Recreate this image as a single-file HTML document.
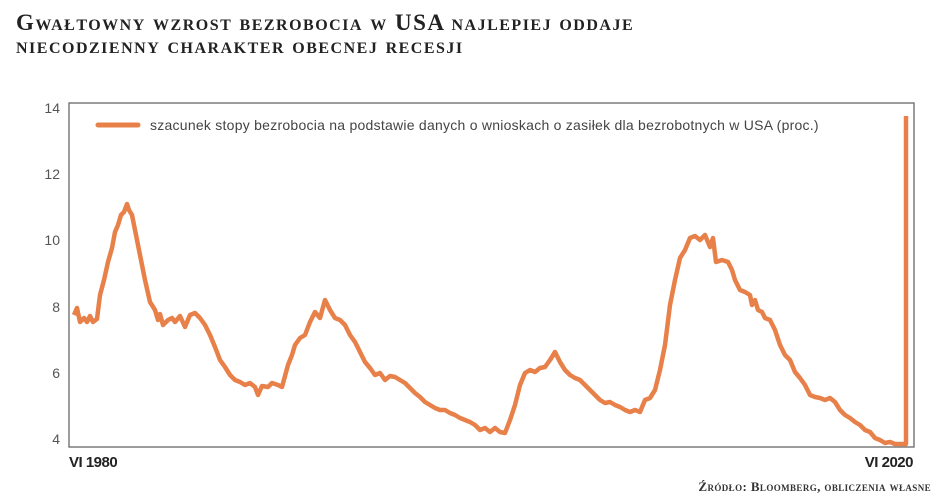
<!DOCTYPE html>
<html><head><meta charset="utf-8"><style>
body{margin:0;width:948px;height:498px;background:#fff;overflow:hidden;font-family:"Liberation Sans",sans-serif}
.t{position:absolute;left:16px;font-family:"Liberation Serif",serif;font-weight:bold;font-variant:small-caps;color:#222;font-size:23px;letter-spacing:1.5px;line-height:22px}
</style></head><body>
<div class="t" style="top:12px">Gwałtowny wzrost bezrobocia w USA najlepiej oddaje</div>
<div class="t" style="top:35px">niecodzienny charakter obecnej recesji</div>
<svg width="948" height="498" style="position:absolute;left:0;top:0">
<rect x="69" y="103" width="845" height="344" fill="none" stroke="#666" stroke-width="1.3"/>
<g font-family="Liberation Sans, sans-serif" font-size="14" fill="#555" text-anchor="end">
<text x="60" y="113">14</text><text x="60" y="179">12</text><text x="60" y="245">10</text>
<text x="60" y="312">8</text><text x="60" y="378">6</text><text x="60" y="444">4</text>
</g>
<text x="69" y="467" font-size="15" fill="#222" font-weight="bold" font-family="Liberation Sans, sans-serif" letter-spacing="-0.5">VI 1980</text>
<text x="913" y="467" font-size="15" fill="#222" font-weight="bold" text-anchor="end" font-family="Liberation Sans, sans-serif" letter-spacing="-0.5">VI 2020</text>
<line x1="98" y1="125" x2="138" y2="125" stroke="#e8804a" stroke-width="5" stroke-linecap="round"/>
<text x="150" y="130" font-size="14" fill="#444" font-family="Liberation Sans, sans-serif" letter-spacing="0.25">szacunek stopy bezrobocia na podstawie danych o wnioskach o zasiłek dla bezrobotnych w USA (proc.)</text>
<polyline fill="none" stroke="#e8804a" stroke-width="4.5" stroke-linejoin="round" points="74,315 77,308 80,322 84,318 87,322 90,316 93,322 97,319 100,295 104,280 108,262 112,248 115,232 118,225 121,215 124,212 127,204 129,210 132,215 135,230 140,255 145,280 150,302 155,310 158,320 160,314 163,325 168,320 172,318 175,322 180,316 185,327 190,315 195,313 200,318 205,325 210,335 215,347 220,360 225,367 230,375 235,380 240,382 245,385 250,383 255,387 258,395 262,386 268,387 272,383 278,385 282,387 288,365 292,355 295,345 300,338 305,335 310,322 315,312 320,318 325,300 330,310 335,318 340,320 345,325 350,335 355,342 360,352 365,362 370,368 375,375 380,373 385,380 390,376 395,377 400,380 405,383 410,388 415,393 420,397 425,402 430,405 435,408 440,410 445,410 450,413 455,415 460,418 465,420 470,422 475,425 480,430 485,428 490,432 495,428 500,432 505,433 510,420 515,405 520,385 525,373 530,370 535,372 540,368 545,367 550,360 555,352 560,362 565,370 570,375 575,378 580,380 585,385 590,390 595,395 600,400 605,403 610,402 615,405 620,407 625,410 630,412 635,410 640,412 645,400 650,398 655,390 660,370 665,345 670,305 675,280 680,258 685,250 690,238 695,236 700,240 705,235 710,247 713,238 716,262 722,260 728,262 732,270 735,280 740,290 745,292 750,295 752,305 755,300 758,310 762,312 765,318 770,320 775,330 780,345 785,355 790,360 795,372 800,378 805,385 810,395 815,397 820,398 825,400 830,398 835,402 840,410 845,415 850,418 855,422 860,425 865,430 870,432 875,438 880,440 885,443 890,442 895,444 900,444 906,444 906,116"/>
<text x="931" y="491" font-size="13" fill="#333" font-weight="bold" text-anchor="end" font-family="Liberation Serif, serif" letter-spacing="0.4" style="font-variant:small-caps">Źródło: Bloomberg, obliczenia własne</text>
</svg>
</body></html>
